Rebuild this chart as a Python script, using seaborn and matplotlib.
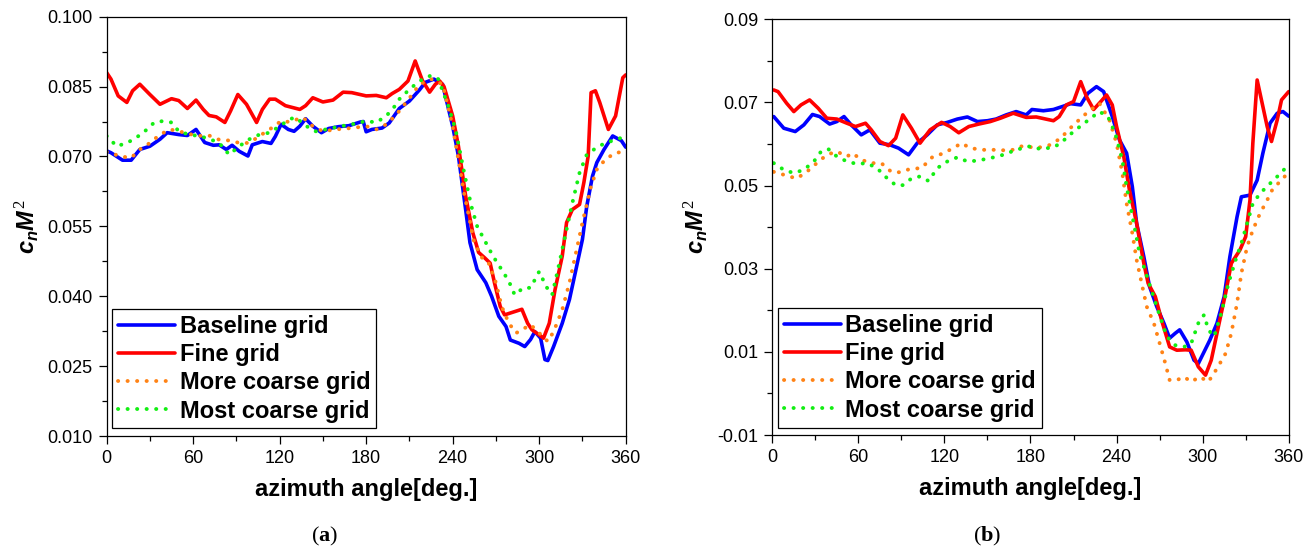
import matplotlib
matplotlib.use("Agg")
import matplotlib.pyplot as plt
from matplotlib.ticker import AutoMinorLocator
import seaborn as sns

# ---- panel (a) data: azimuth angle [deg] vs c_n M^2 ----
base_a_x = [0, 3, 8, 11, 17, 23, 30, 37, 42, 50,
            56, 62, 68, 74, 78, 83, 87, 92, 98, 101,
            108, 114, 117, 121, 126, 130, 134, 138, 143, 149,
            154, 161, 168, 176, 178, 180, 184, 191, 196, 203,
            210, 217, 221, 227, 233, 240, 244, 249, 252, 257,
            263, 267, 272, 277, 280, 286, 290, 294, 297, 301,
            304, 306, 310, 316, 321, 325, 330, 333, 337, 340,
            345, 351, 354, 357, 360]
base_a_y = [0.0712, 0.0708, 0.0698, 0.0692, 0.0692, 0.0715, 0.0722, 0.0737, 0.0751, 0.0747,
            0.0745, 0.0758, 0.0730, 0.0724, 0.0725, 0.0715, 0.0724, 0.0711, 0.0701, 0.0725,
            0.0732, 0.0728, 0.0743, 0.0769, 0.0758, 0.0754, 0.0765, 0.0781, 0.0765, 0.0751,
            0.0760, 0.0764, 0.0766, 0.0774, 0.0775, 0.0753, 0.0758, 0.0761, 0.0772, 0.0803,
            0.0819, 0.0843, 0.0859, 0.0866, 0.0855, 0.0765, 0.0701, 0.0586, 0.0515, 0.0457,
            0.0429, 0.0400, 0.0357, 0.0335, 0.0306, 0.0299, 0.0292, 0.0307, 0.0324, 0.0310,
            0.0264, 0.0262, 0.0292, 0.0342, 0.0393, 0.0450, 0.0522, 0.0593, 0.0658, 0.0687,
            0.0715, 0.0744, 0.0739, 0.0734, 0.0720]

fine_a_x = [0, 3, 8, 14, 18, 23, 30, 37, 45, 50,
            56, 62, 67, 71, 76, 82, 86, 91, 97, 104,
            108, 113, 117, 124, 134, 138, 143, 150, 157, 164,
            170, 180, 187, 194, 198, 203, 209, 214, 219, 224,
            228, 231, 234, 240, 244, 249, 254, 258, 262, 266,
            269, 273, 276, 283, 288, 292, 295, 300, 303, 307,
            311, 316, 319, 323, 328, 331, 334, 336, 339, 342,
            348, 353, 358, 360]
fine_a_y = [0.0880, 0.0866, 0.0830, 0.0816, 0.0841, 0.0855, 0.0833, 0.0812, 0.0824, 0.0820,
            0.0803, 0.0821, 0.0801, 0.0788, 0.0785, 0.0773, 0.0798, 0.0833, 0.0812, 0.0773,
            0.0801, 0.0823, 0.0823, 0.0809, 0.0801, 0.0809, 0.0826, 0.0817, 0.0821, 0.0838,
            0.0837, 0.0830, 0.0831, 0.0826, 0.0835, 0.0844, 0.0862, 0.0905, 0.0863, 0.0838,
            0.0855, 0.0862, 0.0850, 0.0787, 0.0722, 0.0615, 0.0536, 0.0494, 0.0483, 0.0471,
            0.0429, 0.0378, 0.0360, 0.0367, 0.0372, 0.0342, 0.0328, 0.0317, 0.0310, 0.0342,
            0.0414, 0.0486, 0.0558, 0.0586, 0.0597, 0.0644, 0.0701, 0.0837, 0.0841, 0.0816,
            0.0758, 0.0787, 0.0869, 0.0875]

more_a_x = [0, 10, 17, 23, 30, 37, 44, 50, 57, 62,
            71, 78, 86, 92, 99, 106, 113, 121, 127, 136,
            143, 150, 159, 170, 180, 187, 194, 201, 210, 217,
            225, 233, 240, 248, 255, 261, 265, 270, 274, 279,
            284, 288, 294, 300, 306, 310, 316, 321, 325, 330,
            336, 340, 346, 353, 360]
more_a_y = [0.0710, 0.0700, 0.0697, 0.0715, 0.0729, 0.0747, 0.0758, 0.0754, 0.0749, 0.0744,
            0.0745, 0.0736, 0.0734, 0.0729, 0.0729, 0.0744, 0.0758, 0.0776, 0.0774, 0.0784,
            0.0765, 0.0754, 0.0758, 0.0761, 0.0765, 0.0758, 0.0769, 0.0790, 0.0825, 0.0855,
            0.0866, 0.0855, 0.0765, 0.0620, 0.0515, 0.0479, 0.0471, 0.0429, 0.0378, 0.0342,
            0.0321, 0.0328, 0.0339, 0.0321, 0.0303, 0.0324, 0.0371, 0.0429, 0.0486, 0.0558,
            0.0636, 0.0672, 0.0694, 0.0708, 0.0710]

most_a_x = [0, 7, 14, 20, 28, 33, 39, 45, 50, 57,
            64, 71, 78, 85, 92, 99, 106, 113, 120, 127,
            131, 138, 145, 152, 161, 170, 180, 187, 194, 201,
            203, 210, 217, 225, 230, 237, 242, 248, 253, 257,
            263, 268, 274, 279, 283, 289, 294, 300, 305, 309,
            313, 318, 323, 328, 333, 338, 344, 350, 357, 360]
most_a_y = [0.0744, 0.0722, 0.0729, 0.0739, 0.0758, 0.0773, 0.0776, 0.0773, 0.0754, 0.0747,
            0.0744, 0.0738, 0.0729, 0.0704, 0.0722, 0.0737, 0.0747, 0.0751, 0.0765, 0.0780,
            0.0784, 0.0766, 0.0754, 0.0758, 0.0764, 0.0769, 0.0776, 0.0773, 0.0787, 0.0812,
            0.0823, 0.0844, 0.0862, 0.0874, 0.0866, 0.0808, 0.0758, 0.0665, 0.0593, 0.0550,
            0.0515, 0.0486, 0.0457, 0.0432, 0.0403, 0.0418, 0.0418, 0.0453, 0.0420, 0.0403,
            0.0457, 0.0529, 0.0600, 0.0665, 0.0704, 0.0715, 0.0726, 0.0733, 0.0740, 0.0742]

# ---- panel (b) data ----
base_b_x = [1, 8, 16, 22, 28, 33, 40, 45, 50, 55,
            62, 68, 75, 82, 88, 95, 101, 108, 115, 122,
            129, 136, 143, 150, 156, 163, 170, 177, 181, 189,
            196, 203, 208, 215, 220, 226, 231, 237, 242, 247,
            251, 254, 259, 263, 268, 273, 277, 281, 284, 289,
            294, 297, 301, 305, 310, 315, 319, 324, 327, 333,
            338, 342, 347, 352, 356, 360]
base_b_y = [0.0666, 0.0638, 0.0630, 0.0646, 0.0671, 0.0666, 0.0648, 0.0654, 0.0666, 0.0646,
            0.0622, 0.0634, 0.0602, 0.0598, 0.0590, 0.0574, 0.0602, 0.0622, 0.0646, 0.0652,
            0.0660, 0.0665, 0.0654, 0.0656, 0.0660, 0.0670, 0.0678, 0.0670, 0.0683, 0.0680,
            0.0683, 0.0691, 0.0697, 0.0694, 0.0722, 0.0738, 0.0726, 0.0666, 0.0610, 0.0578,
            0.0497, 0.0409, 0.0329, 0.0257, 0.0209, 0.0169, 0.0133, 0.0145, 0.0153, 0.0124,
            0.0080, 0.0072, 0.0100, 0.0128, 0.0169, 0.0233, 0.0329, 0.0425, 0.0473, 0.0477,
            0.0513, 0.0578, 0.0650, 0.0674, 0.0678, 0.0667]

fine_b_x = [1, 4, 10, 15, 20, 26, 32, 38, 45, 52,
            58, 65, 69, 75, 81, 86, 91, 97, 103, 110,
            118, 124, 130, 137, 144, 152, 159, 168, 177, 184,
            196, 200, 205, 210, 215, 219, 224, 229, 233, 237,
            240, 245, 249, 254, 259, 262, 267, 272, 277, 282,
            288, 292, 297, 302, 306, 311, 316, 320, 326, 330,
            333, 335, 338, 341, 345, 348, 352, 355, 360]
fine_b_y = [0.0730, 0.0726, 0.0698, 0.0678, 0.0694, 0.0706, 0.0686, 0.0662, 0.0660, 0.0650,
            0.0642, 0.0650, 0.0634, 0.0606, 0.0596, 0.0614, 0.0670, 0.0638, 0.0602, 0.0634,
            0.0652, 0.0642, 0.0627, 0.0642, 0.0648, 0.0654, 0.0662, 0.0674, 0.0664, 0.0665,
            0.0656, 0.0666, 0.0694, 0.0702, 0.0750, 0.0714, 0.0683, 0.0702, 0.0718, 0.0694,
            0.0642, 0.0570, 0.0489, 0.0409, 0.0313, 0.0265, 0.0233, 0.0169, 0.0112, 0.0104,
            0.0105, 0.0104, 0.0064, 0.0044, 0.0080, 0.0161, 0.0241, 0.0313, 0.0345, 0.0377,
            0.0465, 0.0602, 0.0754, 0.0706, 0.0642, 0.0606, 0.0658, 0.0706, 0.0726]

more_b_x = [1, 9, 17, 24, 31, 38, 45, 52, 56, 62,
            69, 76, 83, 89, 96, 104, 112, 119, 126, 132,
            138, 147, 156, 166, 175, 184, 194, 201, 210, 219,
            228, 235, 240, 244, 247, 251, 254, 258, 261, 266,
            270, 274, 277, 282, 287, 292, 298, 304, 310, 316,
            320, 324, 327, 331, 335, 340, 345, 349, 355, 360]
more_b_y = [0.0533, 0.0525, 0.0517, 0.0533, 0.0554, 0.0574, 0.0582, 0.0570, 0.0578, 0.0562,
            0.0554, 0.0554, 0.0533, 0.0532, 0.0540, 0.0542, 0.0570, 0.0577, 0.0590, 0.0602,
            0.0590, 0.0586, 0.0586, 0.0584, 0.0596, 0.0590, 0.0598, 0.0614, 0.0646, 0.0674,
            0.0698, 0.0658, 0.0602, 0.0530, 0.0457, 0.0385, 0.0321, 0.0257, 0.0209, 0.0169,
            0.0121, 0.0072, 0.0032, 0.0032, 0.0040, 0.0028, 0.0040, 0.0028, 0.0060, 0.0096,
            0.0145, 0.0217, 0.0289, 0.0353, 0.0393, 0.0433, 0.0465, 0.0493, 0.0513, 0.0533]

most_b_x = [1, 8, 15, 22, 29, 34, 39, 45, 52, 59,
            66, 73, 79, 86, 91, 97, 103, 109, 115, 122,
            129, 136, 143, 152, 161, 170, 179, 187, 196, 201,
            210, 219, 228, 234, 239, 244, 247, 252, 256, 262,
            268, 275, 281, 287, 292, 297, 301, 304, 308, 313,
            318, 323, 327, 331, 335, 340, 347, 353, 360]
most_b_y = [0.0554, 0.0538, 0.0530, 0.0538, 0.0558, 0.0582, 0.0588, 0.0570, 0.0558, 0.0552,
            0.0554, 0.0542, 0.0521, 0.0501, 0.0501, 0.0517, 0.0522, 0.0511, 0.0542, 0.0558,
            0.0568, 0.0558, 0.0560, 0.0566, 0.0574, 0.0586, 0.0594, 0.0588, 0.0592, 0.0602,
            0.0630, 0.0654, 0.0678, 0.0666, 0.0626, 0.0562, 0.0497, 0.0409, 0.0337, 0.0273,
            0.0209, 0.0137, 0.0116, 0.0112, 0.0120, 0.0169, 0.0189, 0.0153, 0.0137, 0.0193,
            0.0265, 0.0321, 0.0361, 0.0409, 0.0457, 0.0481, 0.0505, 0.0525, 0.0550]

labels = ["Baseline grid", "Fine grid", "More coarse grid", "Most coarse grid"]
colors = ["#0000ff", "#ff0000", "#ff8316", "#13ee13"]
x_ticks = [0, 60, 120, 180, 240, 300, 360]
y_ticks_a = [0.010, 0.025, 0.040, 0.055, 0.070, 0.085, 0.100]
y_labels_a = ["0.010", "0.025", "0.040", "0.055", "0.070", "0.085", "0.100"]
y_ticks_b = [-0.01, 0.01, 0.03, 0.05, 0.07, 0.09]
y_labels_b = ["-0.01", "0.01", "0.03", "0.05", "0.07", "0.09"]

sns.set_style("ticks")
plt.rcParams["font.family"] = ["Liberation Sans", "DejaVu Sans"]
plt.rcParams["text.color"] = "black"
plt.rcParams["axes.labelcolor"] = "black"
plt.rcParams["mathtext.fontset"] = "custom"
plt.rcParams["mathtext.rm"] = "Liberation Serif"
plt.rcParams["mathtext.bf"] = "Liberation Serif:bold"
plt.rcParams["mathtext.it"] = "Liberation Sans:italic:bold"

fig = plt.figure(figsize=(13.15, 5.51), dpi=100)
ax_a = fig.add_axes([0.0811, 0.2087, 0.3947, 0.7610])
ax_b = fig.add_axes([0.5873, 0.2105, 0.3927, 0.7545])


def draw_panel(ax, series, yticks, ylabels):
    for (xs, ys), lab, col in zip(series, labels, colors):
        sns.lineplot(x=xs, y=ys, ax=ax, color=col, label=lab, lw=2.6,
                     sort=False, estimator=None)
        line = ax.lines[-1]
        if "coarse" in lab:
            line.set_linewidth(2.8)
            line.set_linestyle((0, (0.05, 2.4)))
            line.set_dash_capstyle("round")
    ax.set_xlim(0, 360)
    ax.set_ylim(yticks[0], yticks[-1])
    ax.set_xticks(x_ticks)
    ax.set_yticks(yticks)
    ax.set_yticklabels(ylabels)
    ax.xaxis.set_minor_locator(AutoMinorLocator(2))
    ax.yaxis.set_minor_locator(AutoMinorLocator(2))
    ax.tick_params(which="major", direction="out", length=6, width=0.9,
                   labelsize=13, pad=4, colors="black")
    ax.tick_params(which="minor", direction="out", length=3.5, width=0.9,
                   colors="black")
    for sp in ax.spines.values():
        sp.set_visible(True)
        sp.set_color("black")
        sp.set_linewidth(0.9)
    ax.set_xlabel("azimuth angle[deg.]", fontsize=17, fontweight="bold", labelpad=8)
    ax.set_ylabel(r"$c_nM^\mathit{2}$", fontsize=17, labelpad=5)
    leg = ax.legend(loc="lower left", bbox_to_anchor=(0.011, 0.018),
                    prop={"weight": "bold", "size": 17}, frameon=True,
                    fancybox=False, framealpha=1, edgecolor="black",
                    handlelength=2.4, handletextpad=0.2, labelspacing=0.22,
                    borderpad=0.25, borderaxespad=0, labelcolor="black")
    leg.get_frame().set_linewidth(0.9)


draw_panel(ax_a, [(base_a_x, base_a_y), (fine_a_x, fine_a_y),
                  (more_a_x, more_a_y), (most_a_x, most_a_y)],
           y_ticks_a, y_labels_a)
draw_panel(ax_b, [(base_b_x, base_b_y), (fine_b_x, fine_b_y),
                  (more_b_x, more_b_y), (most_b_x, most_b_y)],
           y_ticks_b, y_labels_b)

fig.text(0.247, 0.027, r"($\mathbf{a}$)", fontsize=16, family="Liberation Serif",
         ha="center", va="center")
fig.text(0.751, 0.027, r"($\mathbf{b}$)", fontsize=16, family="Liberation Serif",
         ha="center", va="center")

fig.savefig("out.png", dpi=100)
